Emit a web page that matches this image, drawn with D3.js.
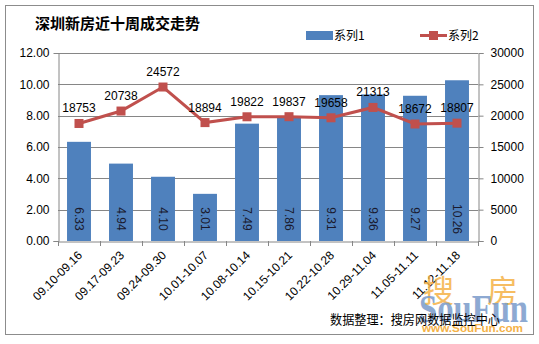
<!DOCTYPE html>
<html><head><meta charset="utf-8">
<script src="https://cdn.jsdelivr.net/npm/d3@7"></script>
<style>body{margin:0;background:#fff}svg{display:block}</style>
</head><body>
<svg id="c" width="539" height="344"></svg>
<script>
const categories = ["09.10-09.16","09.17-09.23","09.24-09.30","10.01-10.07","10.08-10.14","10.15-10.21","10.22-10.28","10.29-11.04","11.05-11.11","11.12-11.18"];
const series1 = [6.33,4.94,4.10,3.01,7.49,7.86,9.31,9.36,9.27,10.26];
const series2 = [18753,20738,24572,18894,19822,19837,19658,21313,18672,18807];
const leftTicks = [0,2,4,6,8,10,12];
const rightTicks = [0,5000,10000,15000,20000,25000,30000];
const seriesNames = ["系列1","系列2"];
const title = "深圳新房近十周成交走势";
const source = "数据整理：搜房网数据监控中心";

const svg = d3.select("#c");
const font = "'Liberation Sans', Arial, sans-serif";
const barColor = "#4F81BD", lineColor = "#C0504D";
const L = 58, R = 478, T = 53, B = 241;

svg.append("rect").attr("x",5.5).attr("y",5.5).attr("width",528).attr("height",329)
  .attr("fill","#fff").attr("stroke","#8c8c8c").attr("stroke-width",1);

const x = d3.scaleBand().domain(categories).range([L,R]).paddingInner(0.43).paddingOuter(0.215);
const yL = d3.scaleLinear().domain([0,12]).range([B,T]);
const yR = d3.scaleLinear().domain([0,30000]).range([B,T]);

// gridlines
svg.append("g").selectAll("line").data(leftTicks.slice(1)).join("line")
  .attr("x1",L).attr("x2",R).attr("y1",d=>Math.round(yL(d))+0.5).attr("y2",d=>Math.round(yL(d))+0.5)
  .attr("stroke","#868686").attr("stroke-width",1);

// bars
svg.append("g").selectAll("rect").data(series1).join("rect")
  .attr("x",(d,i)=>x(categories[i])).attr("width",x.bandwidth())
  .attr("y",d=>yL(d)).attr("height",d=>B-yL(d)).attr("fill",barColor);

// bar labels
svg.append("g").selectAll("text").data(series1).join("text")
  .attr("transform",(d,i)=>`translate(${x(categories[i])+x.bandwidth()/2},219) rotate(90)`)
  .attr("text-anchor","middle").attr("dy","0.35em")
  .attr("font-family",font).attr("font-size",12).attr("fill","#1a1a2e")
  .text(d=>d.toFixed(2));

// axes
const axL = d3.axisLeft(yL).tickValues(leftTicks).tickFormat(d3.format(".2f")).tickSize(5).tickPadding(4);
const gL = svg.append("g").attr("transform",`translate(${L+0.5},0)`).call(axL);
const axR = d3.axisRight(yR).tickValues(rightTicks).tickSize(5).tickPadding(7).tickFormat(d3.format("d"));
const gR = svg.append("g").attr("transform",`translate(${R+0.5},0)`).call(axR);
const axB = d3.axisBottom(x).tickSize(0).tickFormat("");
const gB = svg.append("g").attr("transform",`translate(0,${B+0.5})`).call(axB);
[gL,gR,gB].forEach(g=>{
  g.select(".domain").attr("stroke","#868686");
  g.selectAll(".tick line").attr("stroke","#868686");
  g.selectAll("text").attr("font-family",font).attr("font-size",12).attr("fill","#000");
});
gL.selectAll(".tick line").filter(d=>d!==0).remove();
// category boundary ticks
const bounds = categories.map(c=>x(c)-x.step()*x.paddingInner()/2).concat([R]);
svg.append("g").selectAll("line").data(bounds).join("line")
  .attr("x1",d=>Math.round(d)+0.5).attr("x2",d=>Math.round(d)+0.5).attr("y1",B).attr("y2",B+5)
  .attr("stroke","#868686");

// category labels
svg.append("g").selectAll("text").data(categories).join("text")
  .attr("transform",d=>`translate(${x(d)+x.bandwidth()/2+4},${B+15}) rotate(-45)`)
  .attr("text-anchor","end").attr("font-family",font).attr("font-size",12).attr("fill","#000")
  .text(d=>d);

// line
const cx = (d,i)=>x(categories[i])+x.bandwidth()/2;
svg.append("path").datum(series2)
  .attr("d",d3.line().x(cx).y(d=>yR(d)))
  .attr("fill","none").attr("stroke",lineColor).attr("stroke-width",3);
svg.append("g").selectAll("rect").data(series2).join("rect")
  .attr("x",(d,i)=>cx(d,i)-4.5).attr("y",d=>yR(d)-4.5).attr("width",9).attr("height",9)
  .attr("fill",lineColor);
svg.append("g").selectAll("text").data(series2).join("text")
  .attr("x",cx).attr("y",d=>yR(d)-11).attr("text-anchor","middle")
  .attr("font-family",font).attr("font-size",12).attr("fill","#000")
  .text(d=>d);

// title
svg.append("text").attr("x",35).attr("y",29).attr("font-family","'Noto Sans CJK SC', sans-serif")
  .attr("font-size",15).attr("font-weight","bold").attr("fill","#000").text(title);

// legend
const lg = svg.append("g");
lg.append("rect").attr("x",306).attr("y",31).attr("width",27).attr("height",9).attr("fill",barColor);
lg.append("text").attr("x",334).attr("y",40).attr("font-family","'Noto Sans CJK SC', sans-serif")
  .attr("font-size",12).text(seriesNames[0]);
lg.append("line").attr("x1",420).attr("x2",447).attr("y1",35.5).attr("y2",35.5).attr("stroke",lineColor).attr("stroke-width",3);
lg.append("rect").attr("x",429).attr("y",31).attr("width",9).attr("height",9).attr("fill",lineColor);
lg.append("text").attr("x",448).attr("y",40).attr("font-family","'Noto Sans CJK SC', sans-serif")
  .attr("font-size",12).text(seriesNames[1]);

// watermark
const wm = svg.append("g");
wm.append("text").attr("x",423).attr("y",302).attr("font-family","'Noto Sans CJK SC', sans-serif")
  .attr("font-size",31).attr("fill","#F5B247").attr("opacity",0.85).text("搜");
wm.append("text").attr("x",487).attr("y",302).attr("font-family","'Noto Sans CJK SC', sans-serif")
  .attr("font-size",31).attr("fill","#F5B247").attr("opacity",0.85).text("房");
wm.append("text").attr("x",419).attr("y",322).attr("font-family","'Liberation Serif', serif")
  .attr("font-size",40).attr("font-weight","bold").attr("fill","#7A9BCB").attr("opacity",0.85)
  .attr("textLength",109).attr("lengthAdjust","spacingAndGlyphs").text("SouFun");
wm.append("text").attr("x",422).attr("y",332).attr("font-family",font)
  .attr("font-size",11).attr("font-weight","bold").attr("fill","#F5B247")
  .attr("textLength",101).attr("lengthAdjust","spacingAndGlyphs").text("www.SouFun.com");
svg.append("text").attr("x",330).attr("y",324).attr("font-family","'Noto Sans CJK SC', sans-serif")
  .attr("font-size",13).attr("fill","#000").attr("textLength",170).attr("lengthAdjust","spacingAndGlyphs").text(source);
</script>
</body></html>
